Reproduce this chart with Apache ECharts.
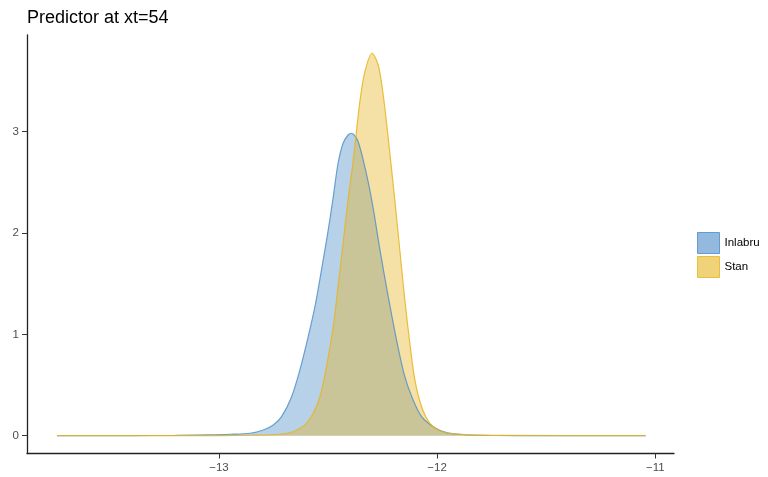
<!DOCTYPE html>
<html>
<head>
<meta charset="utf-8">
<script src="https://cdn.jsdelivr.net/npm/echarts@6/dist/echarts.min.js"></script>
<style>
  html, body { margin: 0; padding: 0; background: #fff; }
  #chart { width: 768px; height: 477px; }
</style>
</head>
<body>
<div id="chart"></div>
<script>
// densities
const inlabruX = [-13.742, -13.4, -13.2, -13.05, -12.95, -12.858, -12.797, -12.751, -12.713, -12.667,
  -12.629, -12.591, -12.56, -12.53, -12.499, -12.476, -12.454, -12.431, -12.408, -12.392,
  -12.362, -12.323, -12.293, -12.262, -12.224, -12.186, -12.148, -12.11, -12.071, -12.018,
  -11.957, -11.896, -11.8, -11.6, -11.044];
const inlabruY = [0, 0.001, 0.003, 0.008, 0.014, 0.024, 0.056, 0.106, 0.188, 0.385,
  0.649, 0.977, 1.273, 1.636, 2.031, 2.359, 2.689, 2.886, 2.968, 2.985,
  2.902, 2.574, 2.245, 1.833, 1.372, 0.945, 0.582, 0.352, 0.188, 0.089,
  0.03, 0.014, 0.004, 0.001, 0];

const stanX = [-13.742, -13.0, -12.85, -12.721, -12.66, -12.606, -12.568, -12.537, -12.507, -12.476,
  -12.454, -12.431, -12.408, -12.385, -12.354, -12.331, -12.298, -12.27, -12.247, -12.224,
  -12.194, -12.171, -12.148, -12.125, -12.102, -12.071, -12.033, -11.987, -11.927, -11.85,
  -11.7, -11.044];
const stanY = [0, 0.001, 0.004, 0.014, 0.039, 0.106, 0.221, 0.385, 0.681, 1.076,
  1.471, 1.899, 2.327, 2.705, 3.297, 3.593, 3.775, 3.659, 3.363, 2.936,
  2.327, 1.833, 1.34, 0.912, 0.55, 0.286, 0.122, 0.046, 0.017, 0.007,
  0.002, 0];

const xTicks = [-13, -12, -11];
const yTicks = [0, 1, 2, 3];

const blue = "75,140,200";
const gold = "230,180,30";

const pairs = (xs, ys) => xs.map((x, i) => [x, ys[i]]);
const minus = (v) => String(v).replace("-", "\u2212");

const chart = echarts.init(document.getElementById("chart"));

chart.setOption({
  backgroundColor: "#fff",
  animation: false,
  textStyle: { fontFamily: "Liberation Sans, Arial, sans-serif" },

  title: {
    text: "Predictor at xt=54",
    left: 22,
    top: 4,
    textStyle: { fontSize: 18, fontWeight: "normal", color: "#000" },
  },

  legend: {
    orient: "vertical",
    left: 692,
    top: 227,
    icon: "rect",
    itemWidth: 22,
    itemHeight: 21,
    itemGap: 2,
    textStyle: { fontSize: 11.5, color: "#000" },
    data: [
      { name: "Inlabru", itemStyle: { color: `rgba(${blue},0.6)`, borderColor: `rgba(${blue},0.8)`, borderWidth: 1 } },
      { name: "Stan", itemStyle: { color: `rgba(${gold},0.6)`, borderColor: `rgba(${gold},0.8)`, borderWidth: 1 } },
    ],
  },

  grid: { left: 27, right: 94, top: 35, bottom: 23.5 },

  xAxis: {
    type: "value",
    min: -13.88,
    max: -10.914,
    splitLine: { show: false },
    axisLine: { onZero: false, lineStyle: { color: "#222", width: 1.3 } },
    axisTick: { customValues: xTicks, length: 5, lineStyle: { color: "#333" } },
    axisLabel: { customValues: xTicks, formatter: minus, color: "#4d4d4d", fontSize: 11.5, margin: 8 },
  },

  yAxis: {
    type: "value",
    min: -0.176,
    max: 3.955,
    splitLine: { show: false },
    axisLine: { show: true, onZero: false, lineStyle: { color: "#222", width: 1.3 } },
    axisTick: { show: true, customValues: yTicks, length: 5, lineStyle: { color: "#333" } },
    axisLabel: { customValues: yTicks, color: "#4d4d4d", fontSize: 11.5, margin: 8 },
  },

  series: [
    {
      name: "Inlabru",
      type: "line",
      data: pairs(inlabruX, inlabruY),
      smooth: 0.3,
      showSymbol: false,
      lineStyle: { color: `rgba(${blue},0.8)`, width: 1.2 },
      itemStyle: { color: `rgba(${blue},0.6)` },
      areaStyle: { color: `rgba(${blue},0.4)`, opacity: 1 },
    },
    {
      name: "Stan",
      type: "line",
      data: pairs(stanX, stanY),
      smooth: 0.3,
      showSymbol: false,
      lineStyle: { color: `rgba(${gold},0.85)`, width: 1.2 },
      itemStyle: { color: `rgba(${gold},0.6)` },
      areaStyle: { color: `rgba(${gold},0.4)`, opacity: 1 },
    },
  ],
});
</script>
</body>
</html>
